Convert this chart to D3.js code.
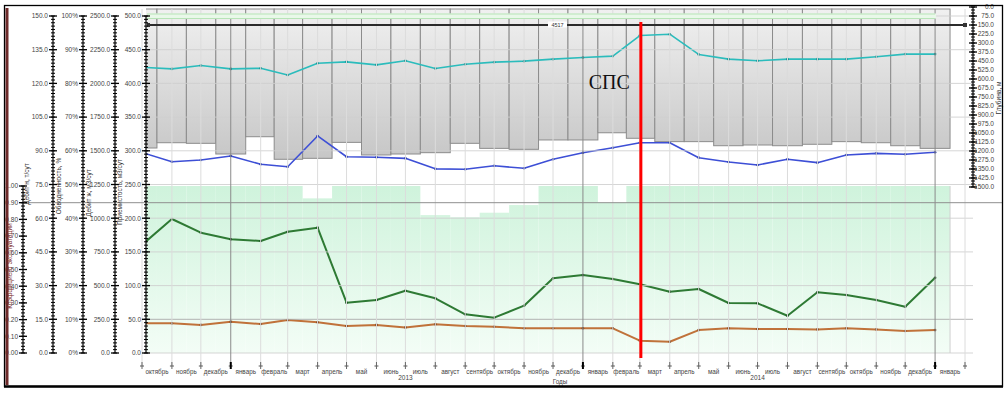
<!DOCTYPE html>
<html><head><meta charset="utf-8">
<script src="https://cdn.jsdelivr.net/npm/d3@7"></script>
<style>body{margin:0;background:#fff}svg{display:block;font-family:"Liberation Sans",Arial,sans-serif}</style>
</head><body><svg id="c" width="1008" height="396"></svg>
<script>
// ---- data ----
const months = ["2012-10-01","2012-11-01","2012-12-01","2013-01-01","2013-02-01","2013-03-01","2013-04-01",
  "2013-05-01","2013-06-01","2013-07-01","2013-08-01","2013-09-01","2013-10-01","2013-11-01","2013-12-01",
  "2014-01-01","2014-02-01","2014-03-01","2014-04-01","2014-05-01","2014-06-01","2014-07-01","2014-08-01",
  "2014-09-01","2014-10-01","2014-11-01","2014-12-01","2015-01-01"];
const monthLabels = ["октябрь","ноябрь","декабрь","январь","февраль","март","апрель","май","июнь","июль","август",
  "сентябрь","октябрь","ноябрь","декабрь","январь","февраль","март","апрель","май","июнь","июль","август",
  "сентябрь","октябрь","ноябрь","декабрь","январь"];
const yearLabels = ["2013","2014"];
const yearCenters = ["2013-07-01","2014-07-01"];
// обводненность, %
const waterCut = [84.8,84.3,85.3,84.3,84.5,82.5,86.0,86.4,85.5,86.7,84.4,85.7,86.3,86.6,87.2,87.7,88.1,94.2,94.6,88.6,87.2,86.7,87.2,87.2,87.2,87.9,88.7,88.7];
// дебит жидкости, м3/сут
const liquidRate = [1487,1419,1432,1461,1400,1382,1610,1456,1452,1444,1366,1363,1389,1370,1437,1486,1523,1560,1560,1449,1417,1395,1437,1412,1469,1481,1474,1489];
// приемистость, м3/сут
const injectivity = [160.5,198.8,178.5,168.7,166.2,180,186,74.6,78.6,92.4,81.2,57.4,52.4,70.2,110.8,115.7,109.8,101.9,91,95,74.2,73.7,55.3,90.1,86.1,78.6,68.7,111.7];
// дебит нефти, т/сут
const oilRate = [13.2,13.2,12.5,13.9,12.9,14.7,13.7,12.0,12.5,11.4,12.8,12.0,11.7,11.0,11.0,11.0,11.0,5.5,5.0,10.2,11.0,10.7,10.7,10.5,11.0,10.5,9.8,10.2];
// глубина (столбцы сверху), м
const depth = [1175,1131,1136,1225,1081,1269,1261,1128,1233,1225,1214,1136,1178,1186,1108,1108,1048,1094,1122,1122,1156,1150,1156,1144,1122,1131,1156,1178];
// коэффициент эксплуатации
const opFactor = [1,1,1,1,1,1,0.926,1,1,1,0.826,0.813,0.84,0.886,1,1,0.9,1,1,1,1,1,1,1,1,1,1,1];
const depthLine = 150, depthLineLabel = "4517";
const eventDate = "2014-03-01", eventLabel = "СПС";
const a1Ticks=[0,0.1,0.2,0.3,0.4,0.5,0.6,0.7,0.8,0.9,1.0];
const a2Ticks=[0,15,30,45,60,75,90,105,120,135,150];
const a3Ticks=[0,10,20,30,40,50,60,70,80,90,100];
const a4Ticks=[0,250,500,750,1000,1250,1500,1750,2000,2250,2500];
const a5Ticks=[0,50,100,150,200,250,300,350,400,450,500];
const rTicks=[0,75,150,225,300,375,450,525,600,675,750,825,900,975,1050,1125,1200,1275,1350,1425,1500];

// ---- scales ----
const svg = d3.select("#c");
const parse = d3.utcParse("%Y-%m-%d");
const dates = months.map(parse);
const x = d3.scaleUtc().domain([parse("2012-10-01"), parse("2015-02-01")]).range([142,965]);
const yA1 = d3.scaleLinear().domain([0,1]).range([353,186]);
const yA2 = d3.scaleLinear().domain([0,150]).range([353,16]);
const yA3 = d3.scaleLinear().domain([0,100]).range([353,16]);
const yA4 = d3.scaleLinear().domain([0,2500]).range([353,16]);
const yA5 = d3.scaleLinear().domain([0,500]).range([353,16]);
const yR = d3.scaleLinear().domain([0,1500]).range([7,187]);
const PL=146, PR=973, PT=7, PB=353;

svg.append("rect").attr("width",1008).attr("height",396).attr("fill","#fff");
const defs = svg.append("defs");
const gG = defs.append("linearGradient").attr("id","gGreen").attr("gradientUnits","userSpaceOnUse").attr("x1",0).attr("x2",0).attr("y1",186).attr("y2",353);
gG.append("stop").attr("offset",0).attr("stop-color","#cff3dc");
gG.append("stop").attr("offset",1).attr("stop-color","#f3fdf6");
const gB = defs.append("linearGradient").attr("id","gGray").attr("gradientUnits","userSpaceOnUse").attr("x1",0).attr("x2",0).attr("y1",10).attr("y2",160);
gB.append("stop").attr("offset",0).attr("stop-color","#f0f0f0");
gB.append("stop").attr("offset",1).attr("stop-color","#c6c6c6");
defs.append("clipPath").attr("id","clip").append("rect").attr("x",PL).attr("y",0).attr("width",PR-PL).attr("height",396);

const xs = dates.map(d=>x(d));
const n = xs.length;
const leftEdge = i => i===0 ? xs[0]-(xs[1]-xs[0])/2 : (xs[i-1]+xs[i])/2;
const rightEdge = i => i===n-1 ? xs[n-1]+(xs[n-1]-xs[n-2])/2 : (xs[i]+xs[i+1])/2;

const plot = svg.append("g").attr("clip-path","url(#clip)");
// green step area
plot.append("g").selectAll("rect").data(opFactor).join("rect")
  .attr("x",(d,i)=>leftEdge(i)).attr("width",(d,i)=>rightEdge(i)-leftEdge(i))
  .attr("y",d=>yA1(d)).attr("height",d=>yA1(0)-yA1(d)).attr("fill","url(#gGreen)");
// gray bars from top
plot.append("g").selectAll("rect").data(depth).join("rect")
  .attr("x",(d,i)=>leftEdge(i)).attr("width",(d,i)=>rightEdge(i)-leftEdge(i))
  .attr("y",yR(0)+2).attr("height",d=>yR(d)-yR(0)-2)
  .attr("fill","url(#gGray)").attr("stroke","#8c8c8c").attr("stroke-width",1);

// grid horizontal
const grid = svg.append("g");
a2Ticks.forEach(v=>{
  grid.append("line").attr("x1",PL).attr("x2",PR).attr("y1",yA2(v)).attr("y2",yA2(v))
    .attr("stroke", v===15 ? "#a8a8a8" : "#cfcfcf").attr("stroke-width",1).attr("opacity",0.85);
});
// vertical month grid
dates.concat([parse("2015-02-01")]).forEach(d=>{
  const isYear = d.getUTCMonth()===0;
  grid.append("line").attr("x1",x(d)).attr("x2",x(d)).attr("y1",PT+2).attr("y2",366)
    .attr("stroke", isYear ? "#8a8a8a" : "#dcdcdc").attr("stroke-width",1);
});
grid.append("line").attr("x1",rightEdge(n-1)).attr("x2",rightEdge(n-1)).attr("y1",186).attr("y2",PB).attr("stroke","#cfcfcf");
// 0.9 line
grid.append("line").attr("x1",21).attr("x2",1003).attr("y1",yA1(0.9)).attr("y2",yA1(0.9)).attr("stroke","#8f8f8f").attr("stroke-width",1);

// top green stripe
svg.append("rect").attr("x",PL+1).attr("y",13.5).attr("width",x(dates[n-1])-PL).attr("height",5).attr("fill","#e9f8e9");
[14,18.5].forEach(yy=>svg.append("line").attr("x1",PL+1).attr("x2",x(dates[n-1])).attr("y1",yy).attr("y2",yy).attr("stroke","#b7e4b7").attr("stroke-width",1.2));
// black depth line
svg.append("line").attr("x1",PL+1).attr("x2",965).attr("y1",yR(depthLine)).attr("y2",yR(depthLine)).attr("stroke","#2b2b2b").attr("stroke-width",1.8);
svg.append("rect").attr("x",963).attr("y",yR(depthLine)-2).attr("width",4).attr("height",4).attr("fill","#333");
svg.append("rect").attr("x",147).attr("y",yR(depthLine)-2).attr("width",3).attr("height",4).attr("fill","#333");
svg.append("rect").attr("x",548).attr("y",yR(depthLine)-3.5).attr("width",19).attr("height",6).attr("fill","#fff");
svg.append("text").attr("x",557.5).attr("y",yR(depthLine)+2).attr("text-anchor","middle").attr("font-size",5.5).attr("fill","#333").text(depthLineLabel);

// lines
function series(vals, yS, color, w, dot){
  const line = d3.line().x((d,i)=>xs[i]).y(d=>yS(d));
  plot.append("path").datum(vals).attr("d",line).attr("fill","none").attr("stroke",color).attr("stroke-width",w).attr("stroke-linejoin","round");
  plot.append("g").selectAll("circle").data(vals).join("circle").attr("cx",(d,i)=>xs[i]).attr("cy",d=>yS(d)).attr("r",1.3).attr("fill",dot);
}
series(waterCut, yA3, "#2bbcbc", 1.6, "#1a8c8c");
series(liquidRate, yA4, "#3d4fd6", 1.6, "#2a3aa8");
series(injectivity, yA5, "#2e7a34", 2, "#1d4d22");
series(oilRate, yA2, "#c0723a", 2, "#7a4420");

// event line
const ex = x(parse(eventDate));
svg.append("line").attr("x1",ex+1).attr("x2",ex+1).attr("y1",22).attr("y2",358).attr("stroke","#ff0000").attr("stroke-width",3);
svg.append("text").attr("x",ex-10).attr("y",89).attr("text-anchor","end").attr("font-family","'Liberation Serif','Times New Roman',serif").attr("font-size",20).attr("fill","#111").text(eventLabel);

// axes
function vAxis(ax, yS, ticks, minorStep, fmt, right){
  const g = svg.append("g");
  const [d0,d1] = yS.domain();
  g.append("line").attr("x1",ax).attr("x2",ax).attr("y1",yS(d0)).attr("y2",yS(d1)).attr("stroke","#000").attr("stroke-width",1.2);
  const minors = d3.range(d0, d1+minorStep/2, minorStep);
  g.selectAll(".mn").data(minors).join("line").attr("x1",ax-2).attr("x2",ax+2).attr("y1",d=>yS(d)).attr("y2",d=>yS(d)).attr("stroke","#000").attr("stroke-width",1);
  g.selectAll(".mj").data(ticks).join("line").attr("x1",ax-4).attr("x2",ax+4).attr("y1",d=>yS(d)).attr("y2",d=>yS(d)).attr("stroke","#000").attr("stroke-width",1.3);
  g.selectAll("text").data(ticks).join("text")
    .attr("x", right ? ax+21 : ax-5).attr("y",d=>yS(d)+2.3).attr("text-anchor","end")
    .attr("font-size",6.5).attr("fill","#444").text(fmt);
}
vAxis(23, yA1, a1Ticks, 0.02, d=>d.toFixed(2));
vAxis(53, yA2, a2Ticks, 1.5, d=>d.toFixed(1));
vAxis(83, yA3, a3Ticks, 1, d=>d+"%");
vAxis(115, yA4, a4Ticks, 25, d=>d.toFixed(1));
vAxis(PL, yA5, a5Ticks, 5, d=>d.toFixed(1));
vAxis(PR, yR, rTicks, 25, d=>d.toFixed(1), true);

function vTitle(tx, ty, txt, col){
  svg.append("text").attr("transform",`translate(${tx},${ty}) rotate(-90)`).attr("text-anchor","middle")
    .attr("font-size",6.5).attr("fill",col||"#333").text(txt);
}
vTitle(29, 184, "Дебит н, т/сут");
vTitle(61, 186, "Обводненность, %");
vTitle(91, 193, "Дебит ж, м3/сут");
vTitle(122, 192, "Приемистость, м3/сут");
vTitle(12, 266, "Коэффициент эксплуатации", "#7a2a2a");
vTitle(1001, 98, "Глубина, м");

// x axis
const xa = svg.append("g");
dates.concat([parse("2015-02-01")]).forEach(d=>{
  const xx = x(d), isYear = d.getUTCMonth()===0;
  xa.append("line").attr("x1",xx-2).attr("x2",xx+2).attr("y1",366).attr("y2",366).attr("stroke","#555");
  xa.append("line").attr("x1",xx).attr("x2",xx).attr("y1",362).attr("y2",369).attr("stroke",isYear?"#000":"#666").attr("stroke-width",isYear?2:1);
});
xa.selectAll(".ml").data(monthLabels).join("text")
  .attr("x",(d,i)=>xs[i]+ (i<n-1 ? (xs[i+1]-xs[i])/2 : (xs[i]-xs[i-1])/2)).attr("y",373.5)
  .attr("text-anchor","middle").attr("font-size",6.3).attr("fill","#444").text(d=>d);
xa.selectAll(".yl").data(yearLabels).join("text")
  .attr("x",(d,i)=>x(parse(yearCenters[i]))).attr("y",380).attr("text-anchor","middle").attr("font-size",6.5).attr("fill","#444").text(d=>d);
xa.append("text").attr("x",560).attr("y",384).attr("text-anchor","middle").attr("font-size",6.3).attr("fill","#444").text("Годы");

// frame
svg.append("line").attr("x1",7).attr("x2",7).attr("y1",8).attr("y2",385).attr("stroke","#6e2a2a").attr("stroke-width",3);
svg.append("rect").attr("x",4.5).attr("y",5.5).attr("width",998).attr("height",381).attr("fill","none").attr("stroke","#000").attr("stroke-width",1.3);
svg.append("line").attr("x1",4).attr("x2",1003).attr("y1",386.5).attr("y2",386.5).attr("stroke","#000").attr("stroke-width",2.5);
</script></body></html>
